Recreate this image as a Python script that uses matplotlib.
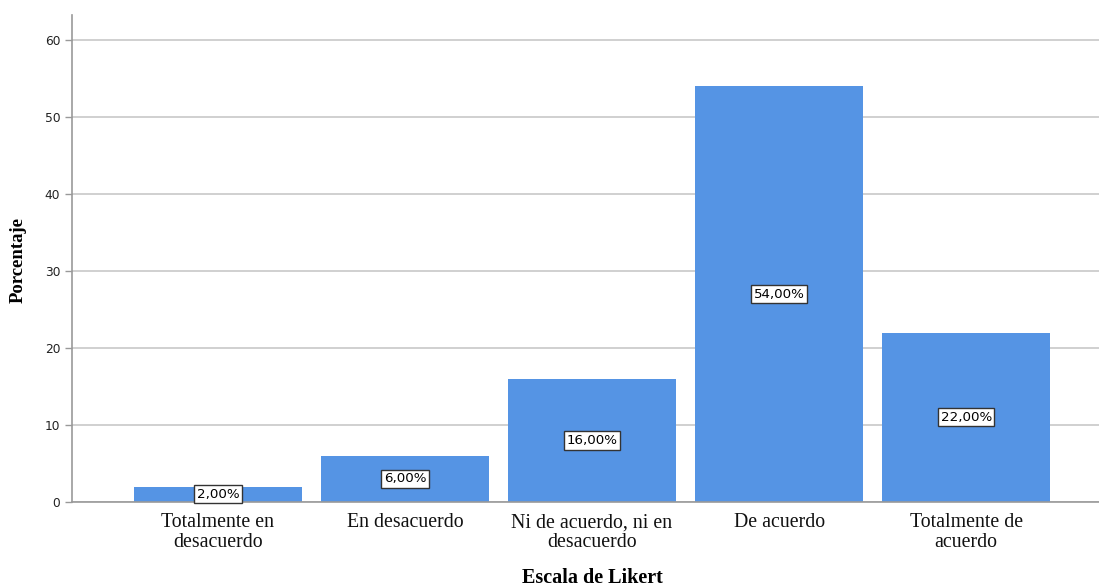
import matplotlib
matplotlib.use("Agg")
import matplotlib.pyplot as plt

categories = ["Totalmente en\ndesacuerdo", "En desacuerdo", "Ni de acuerdo, ni en\ndesacuerdo",
              "De acuerdo", "Totalmente de\nacuerdo"]
values = [2.0, 6.0, 16.0, 54.0, 22.0]
labels = ["2,00%", "6,00%", "16,00%", "54,00%", "22,00%"]
yticks = [0, 10, 20, 30, 40, 50, 60]

fig = plt.figure(figsize=(10.99, 5.87), dpi=100)
ax = fig.add_axes([72/1099, 85/587, 1 - 72/1099, 487/587])

x = list(range(len(categories)))
ax.bar(x, values, width=0.9, color="#5594E4", zorder=3)
ax.set_xlim(-0.78, 4.71)
ax.set_ylim(0, 63.25)
ax.set_yticks(yticks)
ax.set_yticklabels([str(t) for t in yticks], fontsize=8.8, family="DejaVu Sans", color="#222222")
ax.set_xticks(x)
ax.set_xticklabels(categories, fontsize=14.3, family="Liberation Serif", color="#111111", linespacing=1.08)
ax.tick_params(axis="x", length=0, pad=8)
ax.tick_params(axis="y", length=5, color="#999999", width=1)
ax.grid(axis="y", color="#C8C8C8", linewidth=1.2, zorder=0)
for s in ["top", "right"]:
    ax.spines[s].set_visible(False)
ax.spines["left"].set_color("#999999")
ax.spines["bottom"].set_color("#999999")
ax.spines["left"].set_linewidth(1.2)
ax.spines["bottom"].set_linewidth(1.2)
ax.spines["bottom"].set_zorder(4)

for xi, v, lab in zip(x, values, labels):
    ax.text(xi, v / 2, lab, ha="center", va="center", fontsize=9.6, family="DejaVu Sans",
            zorder=5,
            bbox=dict(boxstyle="square,pad=0.2", facecolor="white", edgecolor="#333333", linewidth=1))

fig.text(18/1099, 1 - 260/587, "Porcentaje", rotation=90, ha="center", va="center",
         fontsize=13.5, fontweight="bold", family="Liberation Serif")
fig.text(592/1099, 1 - 578/587, "Escala de Likert", ha="center", va="center",
         fontsize=14.5, fontweight="bold", family="Liberation Serif")

fig.savefig("out.png", dpi=100)
